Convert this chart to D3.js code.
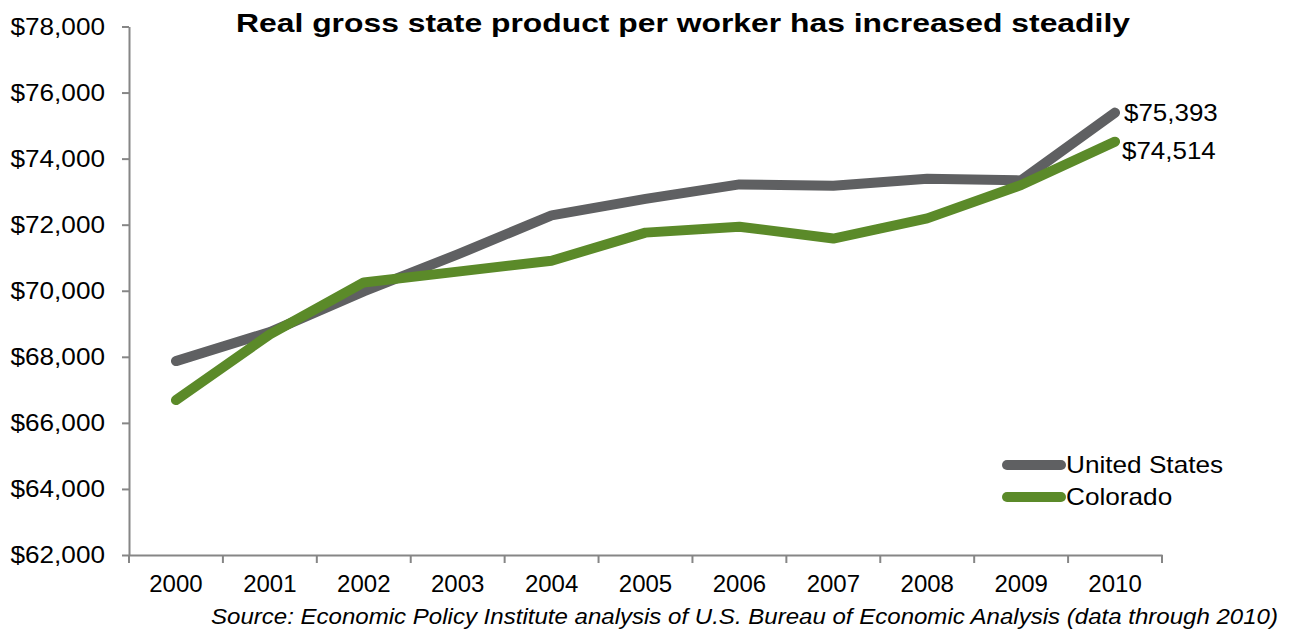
<!DOCTYPE html>
<html>
<head>
<meta charset="utf-8">
<script src="https://cdn.jsdelivr.net/npm/d3@7"></script>
<style>
  html, body { margin: 0; padding: 0; background: #fff; }
  svg { display: block; font-family: "Liberation Sans", Arial, sans-serif; }
</style>
</head>
<body>
<svg id="chart" width="1294" height="635"></svg>
<script>
// Real gross state product per worker, 2000–2010
const years = ["2000","2001","2002","2003","2004","2005","2006","2007","2008","2009","2010"];
const unitedStates = [67870, 68750, 69980, 71100, 72280, 72780, 73220, 73180, 73390, 73340, 75393];
const colorado     = [66690, 68680, 70250, 70580, 70910, 71760, 71940, 71580, 72190, 73200, 74514];
const yTicks = [62000, 64000, 66000, 68000, 70000, 72000, 74000, 76000, 78000];

const seriesNames  = ["United States", "Colorado"];
const seriesColors = ["#5f6062", "#5b8a29"];
const seriesValues = [unitedStates, colorado];

const svg = d3.select("#chart");
const plot = { left: 129, right: 1162, top: 26.5, bottom: 555 };

const x = d3.scaleBand().domain(years).range([plot.left, plot.right]).padding(0);
const y = d3.scaleLinear().domain([62000, 78000]).range([plot.bottom, plot.top]);

const axisColor = "#868686";
const fmt = d3.format("$,");

// Widen text horizontally by factor k, keeping its height
function widen(sel, k) {
  sel.each(function () {
    const w = this.getComputedTextLength();
    this.setAttribute("textLength", (w * k).toFixed(1));
    this.setAttribute("lengthAdjust", "spacingAndGlyphs");
  });
}

// Y axis
const yAxis = svg.append("g")
  .attr("transform", `translate(${plot.left},0)`)
  .call(d3.axisLeft(y).tickValues(yTicks).tickFormat(fmt).tickSize(7).tickPadding(17).tickSizeOuter(0));
yAxis.select(".domain").attr("stroke", axisColor).attr("stroke-width", 2);
yAxis.selectAll(".tick line").attr("stroke", axisColor).attr("stroke-width", 2);
yAxis.selectAll(".tick text").attr("fill", "#000").style("font-size", "24px")
  .style("font-family", "'Liberation Sans', Arial, sans-serif");
widen(yAxis.selectAll(".tick text"), 1.09);

// X axis: labels centred in each band, ticks on band boundaries
const xAxis = svg.append("g")
  .attr("transform", `translate(0,${plot.bottom})`)
  .call(d3.axisBottom(x).tickSize(0).tickPadding(20).tickSizeOuter(0));
xAxis.select(".domain").attr("stroke", axisColor).attr("stroke-width", 2);
xAxis.selectAll(".tick text").attr("fill", "#000").style("font-size", "24px")
  .style("font-family", "'Liberation Sans', Arial, sans-serif");
const boundaries = years.map(d => x(d)).concat([x(years[years.length - 1]) + x.bandwidth()]);
xAxis.selectAll("line.bound").data(boundaries).join("line")
  .attr("class", "bound")
  .attr("x1", d => d).attr("x2", d => d)
  .attr("y1", 0).attr("y2", 8)
  .attr("stroke", axisColor).attr("stroke-width", 2);

// Lines
const line = d3.line()
  .x((d, i) => x(years[i]) + x.bandwidth() / 2)
  .y(d => y(d));

svg.selectAll("path.series").data(seriesValues).join("path")
  .attr("class", "series")
  .attr("d", d => line(d))
  .attr("fill", "none")
  .attr("stroke", (d, i) => seriesColors[i])
  .attr("stroke-width", 10)
  .attr("stroke-linecap", "round")
  .attr("stroke-linejoin", "round");

// End-of-series value labels
const lastX = x(years[years.length - 1]) + x.bandwidth() / 2;
const endOffsets = [0, 9];
seriesValues.forEach((vals, i) => {
  const v = vals[vals.length - 1];
  const t = svg.append("text")
    .attr("x", lastX + 9 - i * 2)
    .attr("y", y(v) + endOffsets[i])
    .attr("dy", "0.35em")
    .style("font-size", "24px")
    .attr("fill", "#000")
    .text(fmt(v));
  widen(t, 1.08);
});

// Legend
const legend = svg.append("g").attr("transform", "translate(1003,465)");
seriesNames.forEach((name, i) => {
  const g = legend.append("g").attr("transform", `translate(0,${i * 32})`);
  g.append("line").attr("x1", 4).attr("x2", 58).attr("y1", 0).attr("y2", 0)
    .attr("stroke", seriesColors[i]).attr("stroke-width", 10).attr("stroke-linecap", "round");
  const t = g.append("text").attr("x", 63).attr("y", 0).attr("dy", "0.35em")
    .style("font-size", "24px").attr("fill", "#000").text(name);
  widen(t, 1.09);
});

// Title
const title = svg.append("text")
  .attr("x", 683).attr("y", 32)
  .attr("text-anchor", "middle")
  .style("font-size", "26px").style("font-weight", "bold")
  .attr("fill", "#000")
  .text("Real gross state product per worker has increased steadily");
widen(title, 1.225);

// Source note
const source = svg.append("text")
  .attr("x", 1278).attr("y", 624)
  .attr("text-anchor", "end")
  .style("font-size", "22px").style("font-style", "italic")
  .attr("fill", "#000")
  .text("Source: Economic Policy Institute analysis of U.S. Bureau of Economic Analysis (data through 2010)");
widen(source, 1.093);
</script>
</body>
</html>
